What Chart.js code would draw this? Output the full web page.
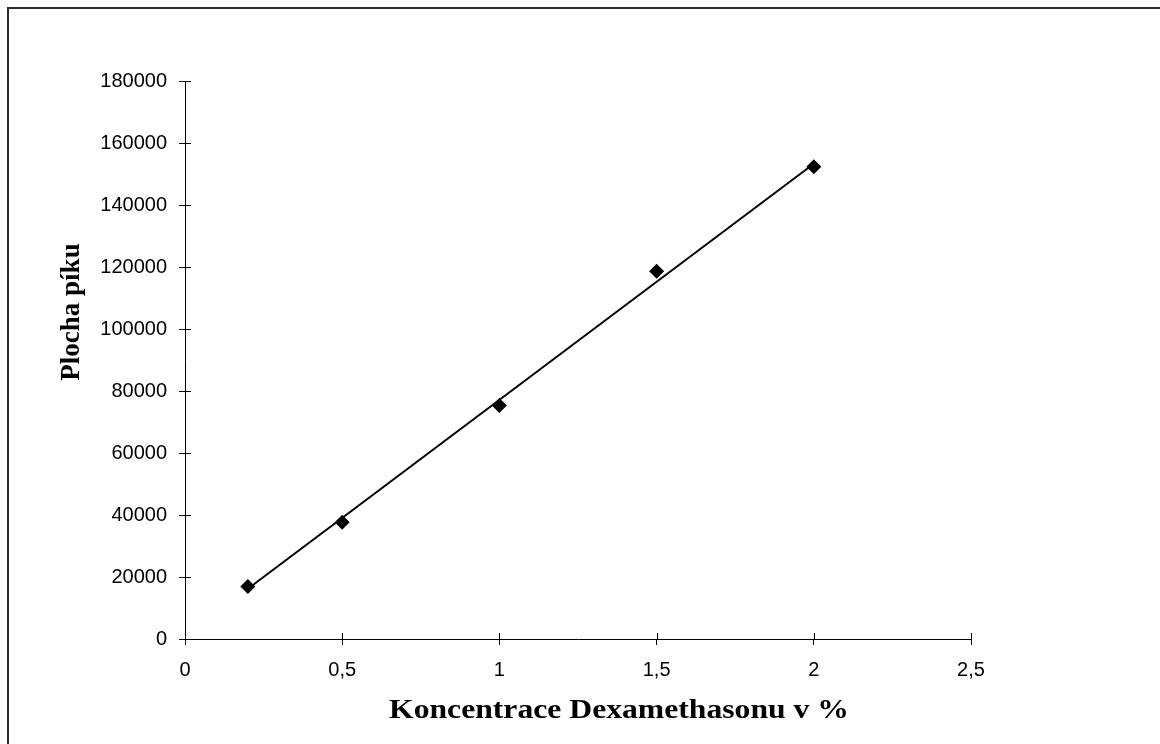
<!DOCTYPE html>
<html>
<head>
<meta charset="utf-8">
<script src="https://cdn.jsdelivr.net/npm/chart.js@4.4.1/dist/chart.umd.min.js"></script>
<style>
  html, body { margin: 0; padding: 0; background: #fff; }
  #wrap { position: relative; width: 1160px; height: 744px; overflow: hidden; }
  #frame { position: absolute; left: 7px; top: 7px; width: 1200px; height: 800px;
           border-top: 2px solid #2b2b2b; border-left: 2px solid #2b2b2b; pointer-events: none; }
  canvas { position: absolute; left: 0; top: 0; }
</style>
</head>
<body>
<div id="wrap">
  <canvas id="c" width="1160" height="744"></canvas>
  <div id="frame"></div>
</div>
<script>
// Calibration data: dexamethasone concentration (%) vs. peak area
const koncentrace = [0.2, 0.5, 1, 1.5, 2];
const plochaPiku  = [16900, 37700, 75300, 118600, 152300];

// Linear trend line end points
const trendX = [0.2, 2];
const trendY = [16200, 153300];

// Axis ranges and tick steps
const xMin = 0, xMax = 2.5, xStep = 0.5;
const yMin = 0, yMax = 180000, yStep = 20000;

const xTitle = 'Koncentrace Dexamethasonu v %';
const yTitle = 'Plocha píku';

const tickFont = { family: '"Liberation Sans", Arial, sans-serif', size: 20 };
const titleFont = 'bold 27px "Liberation Serif", "Times New Roman", serif';
const xTitleFont = 'bold 28px "Liberation Serif", "Times New Roman", serif';

// Tick marks that cross the axis line (inner half) plus axis titles
const axisDecor = {
  id: 'axisDecor',
  afterDraw(chart) {
    const ctx = chart.ctx;
    const xs = chart.scales.x, ys = chart.scales.y;
    const a = chart.chartArea;
    ctx.save();
    ctx.strokeStyle = '#000';
    ctx.lineWidth = 1;
    ctx.beginPath();
    xs.ticks.forEach(t => {
      const px = Math.round(xs.getPixelForValue(t.value)) + 0.5;
      ctx.moveTo(px, a.bottom);
      ctx.lineTo(px, a.bottom - 6);
    });
    ys.ticks.forEach(t => {
      const py = Math.round(ys.getPixelForValue(t.value)) + 0.5;
      ctx.moveTo(a.left, py);
      ctx.lineTo(a.left + 6, py);
    });
    ctx.stroke();

    ctx.fillStyle = '#000';
    ctx.textBaseline = 'alphabetic';

    // x-axis title, slightly widened typeface
    ctx.save();
    ctx.font = xTitleFont;
    ctx.textAlign = 'left';
    const w = ctx.measureText(xTitle).width;
    ctx.translate(389, 718);
    ctx.scale(460 / w, 1);
    ctx.fillText(xTitle, 0, 0);
    ctx.restore();

    // y-axis title, rotated
    ctx.font = titleFont;
    ctx.translate(79, 312);
    ctx.rotate(-Math.PI / 2);
    ctx.textAlign = 'center';
    ctx.fillText(yTitle, 0, 0);
    ctx.restore();
  }
};

new Chart(document.getElementById('c'), {
  type: 'scatter',
  data: {
    datasets: [
      {
        label: 'Plocha píku',
        data: koncentrace.map((x, i) => ({ x, y: plochaPiku[i] })),
        pointStyle: 'rectRot',
        pointRadius: 7.5,
        pointHoverRadius: 7.5,
        backgroundColor: '#000',
        borderColor: '#000',
        borderWidth: 0,
        order: 0
      },
      {
        type: 'line',
        label: 'Trend',
        data: trendX.map((x, i) => ({ x, y: trendY[i] })),
        borderColor: '#000',
        borderWidth: 2,
        pointRadius: 0,
        fill: false,
        order: 1
      }
    ]
  },
  options: {
    responsive: false,
    animation: false,
    devicePixelRatio: 1,
    layout: { padding: { top: 81, right: 189, left: 0, bottom: 0 } },
    plugins: {
      legend: { display: false },
      tooltip: { enabled: false },
      title: { display: false }
    },
    scales: {
      x: {
        type: 'linear',
        min: xMin, max: xMax,
        afterFit(s) { s.height = 105; },
        border: { display: true, color: '#000', width: 1 },
        grid: { display: true, drawOnChartArea: false, drawTicks: true, tickLength: 6, color: '#000' },
        ticks: {
          stepSize: xStep,
          color: '#000',
          font: tickFont,
          padding: 13,
          callback: v => String(v).replace('.', ',')
        }
      },
      y: {
        type: 'linear',
        min: yMin, max: yMax,
        afterFit(s) { s.width = 185; },
        border: { display: true, color: '#000', width: 1 },
        grid: { display: true, drawOnChartArea: false, drawTicks: true, tickLength: 6, color: '#000' },
        ticks: {
          stepSize: yStep,
          color: '#000',
          font: tickFont,
          padding: 12,
          callback: v => String(v)
        }
      }
    }
  },
  plugins: [axisDecor]
});
</script>
</body>
</html>
